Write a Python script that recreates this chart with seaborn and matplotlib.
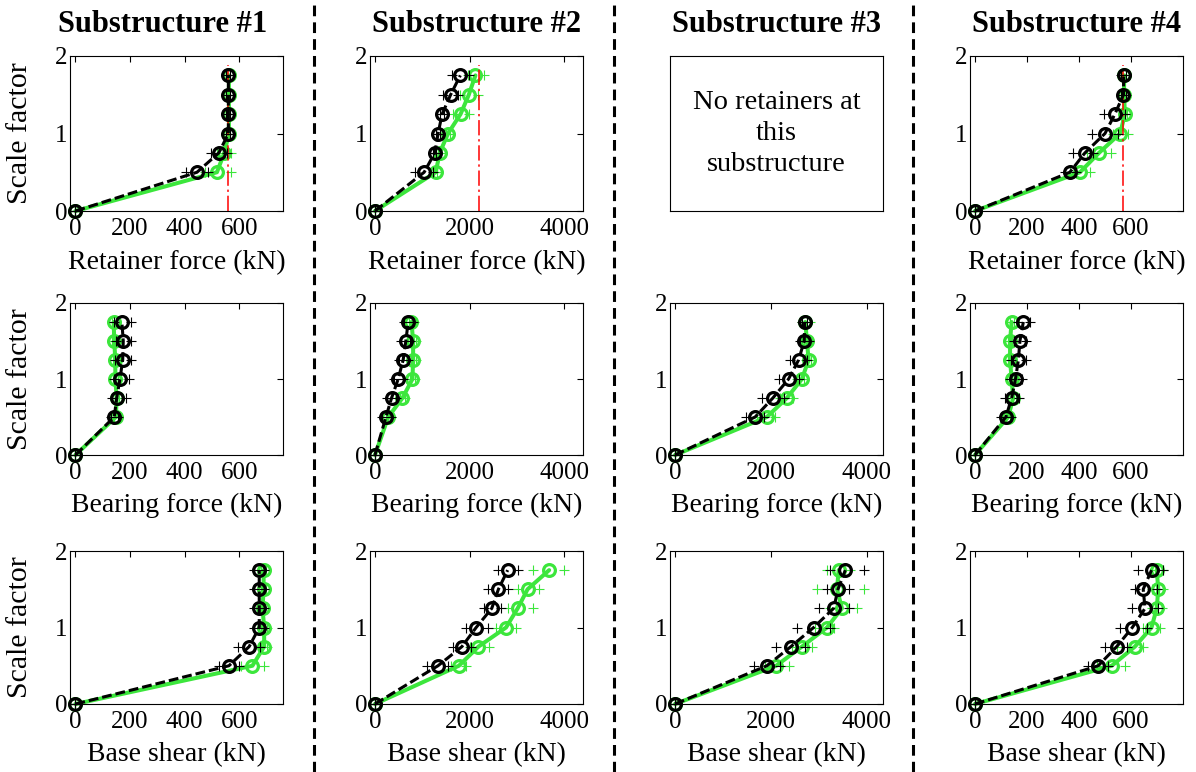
import matplotlib
matplotlib.use("Agg")
import matplotlib.pyplot as plt
import seaborn as sns
from matplotlib.lines import Line2D

sns.set_theme(style="white")
plt.rcParams["font.family"] = ["Liberation Serif", "DejaVu Serif"]
plt.rcParams["text.color"] = "black"
plt.rcParams["axes.labelcolor"] = "black"
plt.rcParams["xtick.color"] = "black"
plt.rcParams["ytick.color"] = "black"

# ---------------------------------------------------------------- data
scale = [0, 0.5, 0.75, 1.0, 1.25, 1.5, 1.75]

col_titles = ["Substructure #1", "Substructure #2", "Substructure #3", "Substructure #4"]
row_labels = ["Retainer force (kN)", "Bearing force (kN)", "Base shear (kN)"]
no_retainer_text = "No retainers at\nthis\nsubstructure"

# retainer capacity (kN), None where there are no retainers
retainer_cap = [560, 2210, None, 568]

# --- retainer force (kN): mean, lower, upper for the two series
ret_exp = [
    [0, 445, 525, 560, 560, 560, 560],
    [0, 1040, 1265, 1335, 1420, 1600, 1805],
    None,
    [0, 365, 423, 500, 538, 571, 572],
]
ret_exp_lo = [
    [0, 405, 495, 552, 552, 552, 552],
    [0, 840, 1230, 1300, 1370, 1440, 1620],
    None,
    [0, 345, 378, 450, 495, 560, 562],
]
ret_exp_hi = [
    [0, 485, 555, 566, 566, 566, 566],
    [0, 1230, 1300, 1370, 1470, 1760, 1990],
    None,
    [0, 390, 455, 550, 578, 580, 580],
]
ret_num = [
    [0, 518, 545, 562, 562, 562, 562],
    [0, 1285, 1370, 1545, 1810, 1985, 2125],
    None,
    [0, 404, 477, 558, 577, 573, 574],
]
ret_num_lo = [
    [0, 475, 520, 556, 556, 556, 556],
    [0, 1250, 1340, 1500, 1650, 1800, 1960],
    None,
    [0, 365, 430, 530, 570, 566, 566],
]
ret_num_hi = [
    [0, 568, 568, 566, 566, 566, 566],
    [0, 1320, 1400, 1590, 1990, 2170, 2300],
    None,
    [0, 442, 525, 590, 585, 580, 580],
]

# --- bearing force (kN)
brg_exp = [
    [0, 142, 151, 163, 173, 175, 170],
    [0, 232, 351, 491, 596, 653, 702],
    [0, 1672, 2042, 2369, 2578, 2697, 2704],
    [0, 119, 141, 156, 167, 173, 186],
]
brg_exp_lo = [
    [0, 130, 135, 140, 145, 150, 140],
    [0, 140, 260, 400, 500, 560, 610],
    [0, 1480, 1810, 2160, 2400, 2600, 2660],
    [0, 100, 115, 135, 140, 150, 165],
]
brg_exp_hi = [
    [0, 155, 185, 197, 203, 203, 203],
    [0, 330, 450, 590, 700, 750, 800],
    [0, 1860, 2270, 2580, 2750, 2800, 2750],
    [0, 140, 170, 180, 195, 198, 210],
]
brg_num = [
    [0, 148, 151, 146, 146, 142, 140],
    [0, 281, 582, 793, 807, 807, 772],
    [0, 1916, 2334, 2648, 2787, 2753, 2718],
    [0, 128, 147, 141, 135, 135, 141],
]
brg_num_lo = [
    [0, 140, 143, 138, 138, 134, 132],
    [0, 230, 530, 740, 760, 760, 720],
    [0, 1710, 2200, 2550, 2730, 2700, 2640],
    [0, 120, 138, 133, 127, 127, 133],
]
brg_num_hi = [
    [0, 156, 159, 154, 154, 150, 148],
    [0, 330, 640, 850, 860, 860, 820],
    [0, 2090, 2470, 2690, 2840, 2800, 2820],
    [0, 136, 156, 149, 143, 143, 149],
]

# --- base shear (kN)
shr_exp = [
    [0, 562, 636, 673, 673, 673, 673],
    [0, 1333, 1839, 2140, 2470, 2611, 2807],
    [0, 1916, 2418, 2892, 3310, 3401, 3554],
    [0, 474, 545, 605, 654, 647, 679],
]
shr_exp_lo = [
    [0, 525, 595, 655, 655, 655, 655],
    [0, 1090, 1650, 1930, 2315, 2385, 2595],
    [0, 1640, 2110, 2545, 3000, 3170, 3240],
    [0, 436, 500, 558, 603, 615, 628],
]
shr_exp_hi = [
    [0, 600, 675, 690, 690, 690, 690],
    [0, 1545, 2035, 2385, 2665, 2805, 3015],
    [0, 2195, 2720, 3240, 3625, 3625, 3935],
    [0, 513, 583, 660, 705, 699, 724],
]
shr_num = [
    [0, 648, 691, 691, 685, 689, 689],
    [0, 1775, 2189, 2772, 3018, 3228, 3684],
    [0, 2111, 2648, 3171, 3484, 3380, 3415],
    [0, 526, 615, 679, 699, 705, 699],
]
shr_num_lo = [
    [0, 605, 680, 680, 676, 680, 680],
    [0, 1615, 2000, 2560, 2805, 3020, 3335],
    [0, 1880, 2440, 2925, 3240, 2960, 3170],
    [0, 470, 545, 647, 680, 680, 692],
]
shr_num_hi = [
    [0, 691, 700, 700, 695, 698, 698],
    [0, 1930, 2420, 2980, 3335, 3475, 4000],
    [0, 2370, 2855, 3310, 3800, 3935, 3660],
    [0, 577, 647, 712, 718, 724, 724],
]

# axis ranges and ticks per substructure column
col_xlim = [(-20, 760), (-105, 4400), (-105, 4340), (-19, 800)]
col_xticks = [[0, 200, 400, 600], [0, 2000, 4000], [0, 2000, 4000], [0, 200, 400, 600]]

# ---------------------------------------------------------------- style
EXP_COLOR = "black"
NUM_COLOR = "#3ce63c"
CAP_COLOR = "#ff0000"

W, H = 1196, 772
fig = plt.figure(figsize=(W / 100, H / 100), dpi=100)

col_left = [70, 370, 670, 970]
ax_w = 213
row_box = [(56, 211), (303, 455), (551, 704)]
title_x = [163, 476.5, 776.5, 1076.5]

rows = [
    (ret_exp, ret_exp_lo, ret_exp_hi, ret_num, ret_num_lo, ret_num_hi),
    (brg_exp, brg_exp_lo, brg_exp_hi, brg_num, brg_num_lo, brg_num_hi),
    (shr_exp, shr_exp_lo, shr_exp_hi, shr_num, shr_num_lo, shr_num_hi),
]


def style_axes(ax):
    for s in ax.spines.values():
        s.set_color("black")
        s.set_linewidth(0.8)
        s.set_visible(True)


def draw_series(ax, x, lo, hi, color, dashed, z):
    sns.lineplot(x=x, y=scale, ax=ax, sort=False, estimator=None,
                 color=color, linewidth=2.2 if dashed else 2.9,
                 marker="o", markersize=8.5, markerfacecolor="none",
                 markeredgecolor=color, markeredgewidth=2.3,
                 clip_on=False, zorder=z)
    line = ax.lines[-1]
    if dashed:
        line.set_dashes([3.2, 1.3])
    sns.scatterplot(x=list(lo) + list(hi), y=scale + scale, ax=ax,
                    marker="+", s=48, color=color, linewidth=0.8,
                    clip_on=False, zorder=z + 0.1, legend=False)


for r, (ex, exlo, exhi, nm, nmlo, nmhi) in enumerate(rows):
    top, bot = row_box[r]
    for c in range(4):
        ax = fig.add_axes([col_left[c] / W, 1 - bot / H, ax_w / W, (bot - top) / H])
        style_axes(ax)
        if ex[c] is None:
            ax.set_xticks([])
            ax.set_yticks([])
            ax.text(0.5, 0.5, no_retainer_text, transform=ax.transAxes,
                    ha="center", va="center", fontsize=20.5, linespacing=1.3,
                    color="black")
            continue

        draw_series(ax, nm[c], nmlo[c], nmhi[c], NUM_COLOR, False, 2)
        if r == 0 and retainer_cap[c] is not None:
            ax.vlines(retainer_cap[c], 0, 1.88, colors=CAP_COLOR,
                      linewidth=1.1, linestyles=(0, (10, 2.5, 1.5, 2.5)), zorder=2.5)
        draw_series(ax, ex[c], exlo[c], exhi[c], EXP_COLOR, True, 3)

        ax.set_xlim(*col_xlim[c])
        ax.set_ylim(0, 2)
        ax.set_xticks(col_xticks[c])
        ax.set_yticks([0, 1, 2])
        ax.tick_params(axis="both", direction="in", length=4, width=0.8,
                       top=True, right=True, labelsize=18, colors="black")
        ax.tick_params(axis="x", pad=5)
        ax.tick_params(axis="y", pad=2)

        ax.set_xlabel(row_labels[r], fontsize=20, va="center", color="black")
        ax.xaxis.set_label_coords(0.5, -0.33)
        if c == 0:
            ax.set_ylabel("Scale factor", fontsize=21.5, va="center", color="black")
            ax.yaxis.set_label_coords(-0.235, 0.5)
        else:
            ax.set_ylabel("")

# column headings
for c, title in enumerate(col_titles):
    fig.text(title_x[c] / W, 1 - 25 / H, title, ha="center", va="center",
             fontsize=22, fontweight="bold", color="black")

# dashed separators between substructures
for xs in [314, 614, 913]:
    fig.add_artist(Line2D([xs / W, xs / W], [0, 1], transform=fig.transFigure,
                          color="black", linewidth=2.2, dashes=(3.5, 2.0)))

fig.savefig("out.png", dpi=100)
